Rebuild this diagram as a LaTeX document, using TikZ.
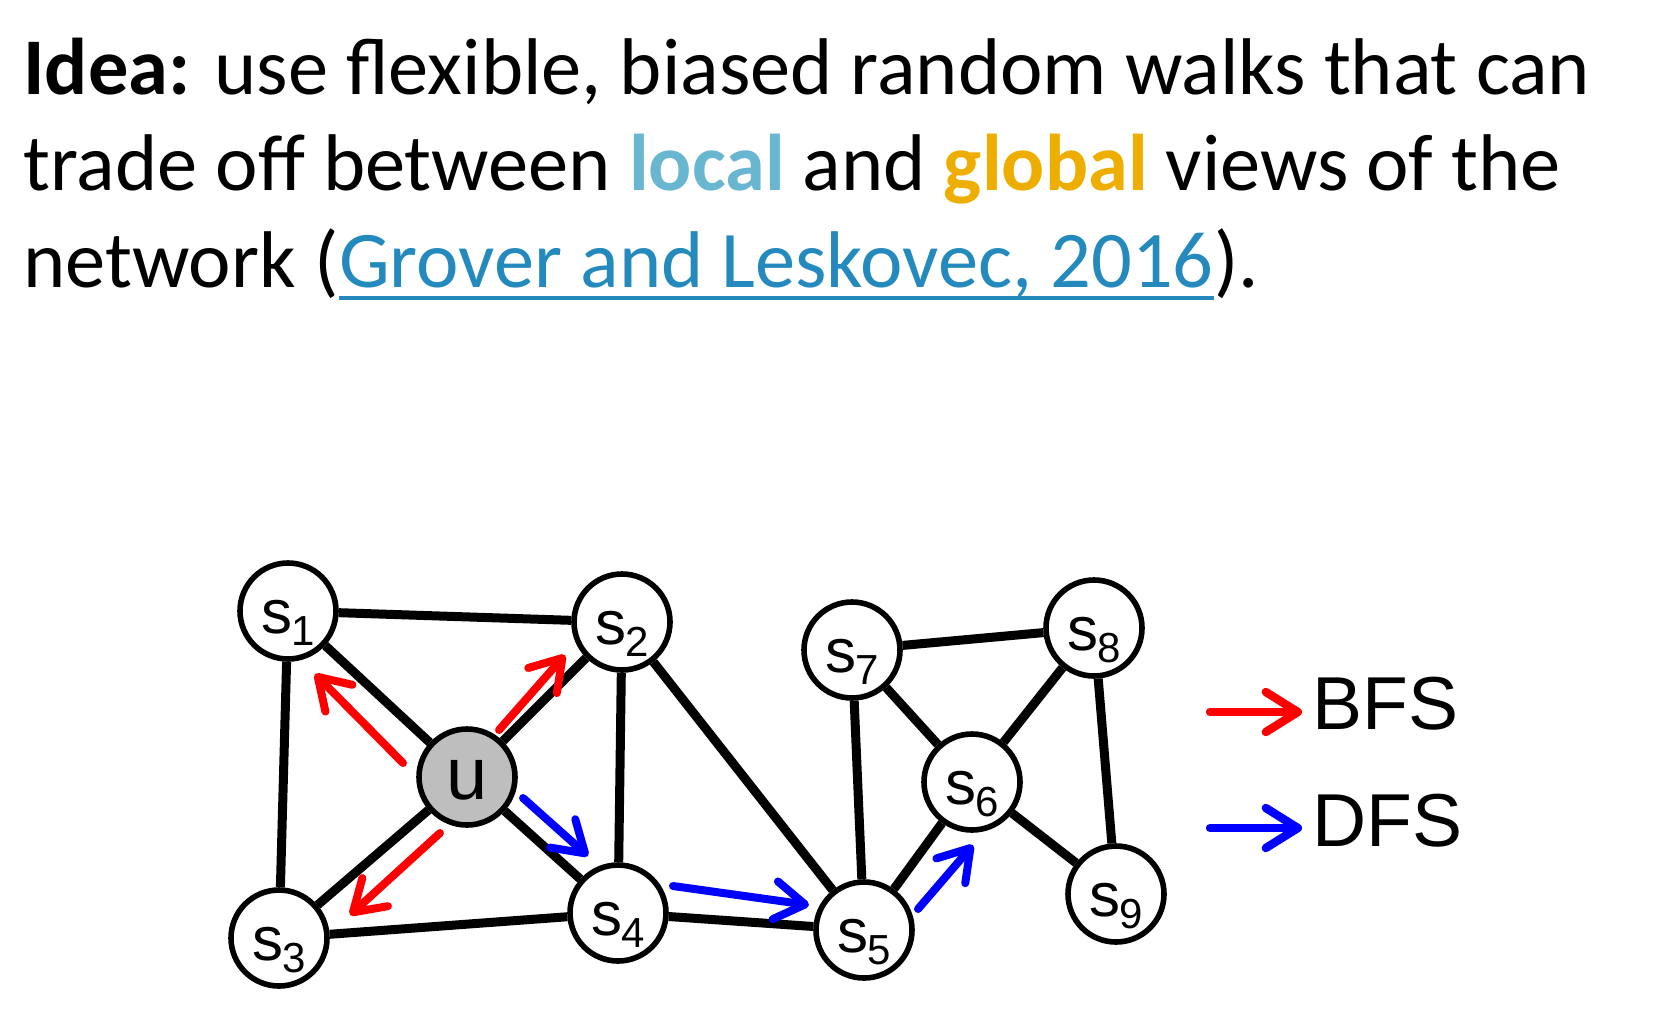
\documentclass[tikz,border=0pt]{standalone}
\usepackage{fontspec}
\setmainfont{Carlito}
\newfontfamily\arial{Liberation Sans}
\usetikzlibrary{arrows.meta}
\definecolor{localc}{RGB}{104,182,208}
\definecolor{globalc}{RGB}{238,174,0}
\definecolor{linkc}{RGB}{36,138,190}
\definecolor{nodegray}{RGB}{190,190,190}
\newcommand\slab[1]{\raisebox{-11pt}{s\kern-0.5pt\raisebox{-6pt}{\fontsize{21}{21}\selectfont #1}}}
\begin{document}
\begin{tikzpicture}[x=0.5pt,y=-0.5pt,
  titleline/.style={anchor=base west,inner sep=0pt,font=\fontsize{40.2}{48}\selectfont},
  gnode/.style={circle,draw=black,line width=2.8pt,fill=white,minimum size=48pt,inner sep=0pt,
    text height=0pt,text depth=0pt,font=\arial\fontsize{31}{31}\selectfont},
  unode/.style={gnode,fill=nodegray,font=\arial\fontsize{37}{37}\selectfont},
  edge/.style={line width=4.5pt,black},
  walk/.style={line width=4pt,line cap=round,-{Straight Barb[length=15pt,width=19pt,round]}},
  bfs/.style={walk,red},
  dfs/.style={walk,blue},
  legarrow/.style={line width=4.2pt,line cap=round,-{Straight Barb[length=16pt,width=20pt,round]}},
  legend/.style={anchor=base west,inner sep=0pt,font=\arial\fontsize{37.5}{37.5}\selectfont}]
\fill[white] (0,0) rectangle (1668,1018);
\useasboundingbox (0,0) rectangle (1668,1018);
% title
\node[titleline] (t1) at (23,94) {\textbf{Idea:} use flexible, biased random walks that can};
\node[titleline] (t2) at (23,190) {trade off between \textcolor{localc}{\textbf{local}} and \textcolor{globalc}{\textbf{global}} views of the};
\node[titleline] (t3a) at (23,287) {network (};
\node[titleline,text=linkc] (t3b) at (t3a.base east) {Grover and Leskovec, 2016};
\node[titleline] (t3c) at (t3b.base east) {).};
\draw[linkc,line width=1.8pt] ([yshift=-5.6pt]t3b.base west) -- ([yshift=-5.6pt]t3b.base east);
% positions
\coordinate (ps1) at (288,611);
\coordinate (ps2) at (622,622);
\coordinate (pu) at (467,777);
\coordinate (ps3) at (279,938);
\coordinate (ps4) at (618,913);
\coordinate (ps5) at (864,930);
\coordinate (ps6) at (972,782);
\coordinate (ps7) at (852,650);
\coordinate (ps8) at (1094,628);
\coordinate (ps9) at (1116,894);
\node[gnode] (s1) at (ps1) {\slab{1}};
\node[gnode] (s2) at (ps2) {\slab{2}};
\node[unode] (u) at (pu) {\raisebox{-11pt}{u}};
\node[gnode] (s3) at (ps3) {\slab{3}};
\node[gnode] (s4) at (ps4) {\slab{4}};
\node[gnode] (s5) at (ps5) {\slab{5}};
\node[gnode] (s6) at (ps6) {\slab{6}};
\node[gnode] (s7) at (ps7) {\slab{7}};
\node[gnode] (s8) at (ps8) {\slab{8}};
\node[gnode] (s9) at (ps9) {\slab{9}};
\foreach \a/\b in {s1/s2,s1/u,s1/s3,s2/u,s2/s4,s2/s5,u/s3,u/s4,s3/s4,s4/s5,s5/s7,s5/s6,s7/s8,s7/s6,s6/s8,s6/s9,s8/s9}
  \draw[edge] (\a) -- (\b);
% walk arrows
\coordinate (a1s) at (403,763); \coordinate (a1e) at (315,674);
\coordinate (a2s) at (499,730); \coordinate (a2e) at (565,655);
\coordinate (a3s) at (440,833); \coordinate (a3e) at (350,915);
\coordinate (b1s) at (523,798); \coordinate (b1e) at (588,856);
\coordinate (b2s) at (673,886); \coordinate (b2e) at (809,905);
\coordinate (b3s) at (918,909); \coordinate (b3e) at (973,845);
\draw[bfs] (a1s) -- (a1e);
\draw[bfs] (a2s) -- (a2e);
\draw[bfs] (a3s) -- (a3e);
\draw[dfs] (b1s) -- (b1e);
\draw[dfs] (b2s) -- (b2e);
\draw[dfs] (b3s) -- (b3e);
% legend
\coordinate (lb1) at (1210,712); \coordinate (lb2) at (1302,712);
\coordinate (ld1) at (1210,828); \coordinate (ld2) at (1302,828);
\draw[legarrow,red] (lb1) -- (lb2);
\draw[legarrow,blue] (ld1) -- (ld2);
\node[legend] (bfslab) at (1312,729) {BFS};
\node[legend] (dfslab) at (1312,846) {DFS};
\end{tikzpicture}
\end{document}
